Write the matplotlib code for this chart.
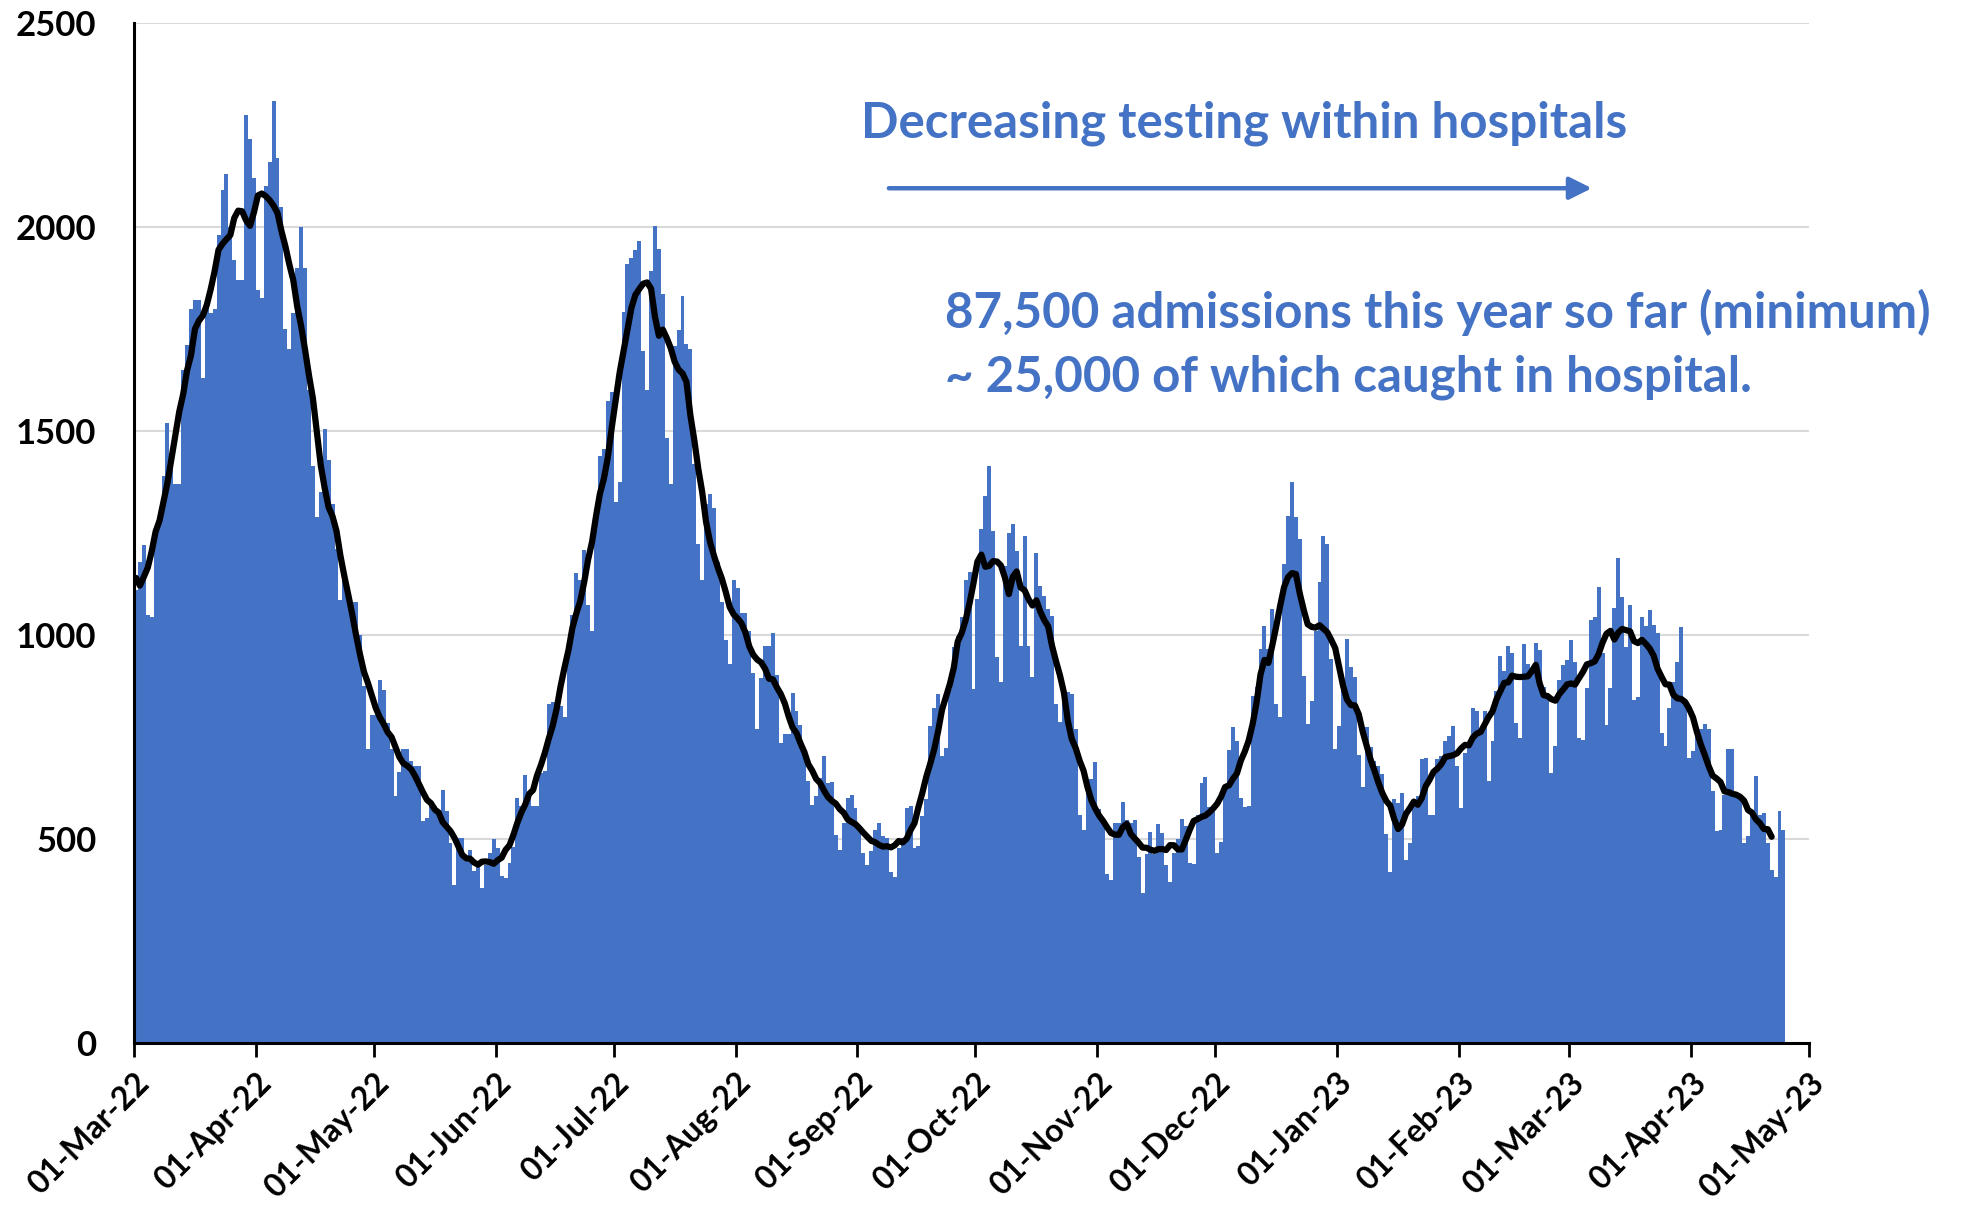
import pandas as pd
import numpy as np
import matplotlib
matplotlib.use('Agg')
from matplotlib import pyplot as plt
import matplotlib.dates as mdates

# daily admissions, one list per month
mar22 = [1110, 1180, 1220, 1050, 1045, 1250, 1300, 1390, 1520, 1410, 1370, 1370, 1650, 1710, 1800, 1820,
         1820, 1630, 1820, 1790, 1800, 1980, 2090, 2130, 2000, 1920, 1870, 1870, 2275, 2215, 2120]
apr22 = [1845, 1825, 2100, 2160, 2310, 2170, 2050, 1750, 1700, 1790, 1900, 2000, 1900, 1600, 1415, 1290,
         1350, 1505, 1430, 1320, 1210, 1085, 1135, 1100, 1080, 1080, 1000, 875, 720, 805]
may22 = [805, 890, 865, 785, 720, 605, 665, 720, 720, 690, 678, 678, 543, 551, 580, 580,
         563, 621, 568, 490, 388, 502, 502, 449, 474, 421, 433, 380, 437, 466, 500]
jun22 = [478, 409, 405, 441, 480, 600, 580, 657, 616, 580, 580, 661, 666, 830, 837, 826,
         826, 798, 955, 1050, 1152, 1135, 1208, 1073, 1011, 1280, 1438, 1455, 1573, 1596]
jul22 = [1326, 1376, 1792, 1910, 1924, 1944, 1966, 1697, 1601, 1893, 2002, 1946, 1837, 1483, 1371, 1708,
         1747, 1831, 1713, 1700, 1420, 1224, 1136, 1320, 1345, 1312, 1180, 1080, 988, 928, 1136]
aug22 = [1114, 1054, 1054, 1010, 906, 769, 895, 972, 972, 1005, 901, 736, 758, 758, 857, 813,
         780, 709, 643, 583, 605, 649, 703, 638, 640, 511, 474, 539, 601, 609, 576]
sep22 = [527, 466, 437, 470, 523, 539, 507, 502, 420, 408, 478, 502, 576, 580, 478, 482,
         556, 597, 777, 822, 855, 703, 724, 867, 970, 998, 1043, 1134, 1154, 868]
oct22 = [1088, 1259, 1341, 1414, 1255, 945, 884, 1170, 1251, 1272, 1206, 974, 1243, 974, 896, 1202,
         1121, 1096, 1064, 1047, 831, 786, 864, 860, 856, 770, 558, 521, 631, 648, 688]
nov22 = [574, 542, 415, 400, 540, 540, 591, 547, 540, 547, 456, 367, 463, 517, 463, 537,
         514, 436, 395, 466, 500, 548, 533, 442, 438, 560, 637, 652, 579, 571]
dec22 = [466, 493, 628, 718, 775, 741, 600, 579, 582, 850, 872, 966, 1023, 966, 1064, 831,
         799, 1174, 1292, 1374, 1288, 1235, 900, 782, 839, 1011, 1129, 1243, 1223, 941, 721]
jan23 = [778, 880, 990, 921, 896, 705, 627, 774, 725, 692, 680, 660, 513, 420, 597, 589,
         613, 449, 490, 590, 605, 695, 699, 560, 560, 695, 703, 740, 752, 777, 679]
feb23 = [576, 711, 736, 822, 814, 769, 814, 642, 740, 863, 949, 912, 974, 957, 785, 748,
         978, 930, 906, 980, 964, 873, 857, 661, 727, 890, 926, 939]
mar23 = [988, 935, 748, 743, 870, 1037, 1045, 1118, 955, 779, 870, 1066, 1189, 1094, 970, 1074,
         841, 849, 1045, 1021, 1062, 1025, 1004, 760, 727, 821, 884, 933, 1020, 830, 699]
apr23 = [716, 769, 769, 781, 769, 617, 519, 523, 609, 720, 720, 609, 605, 490, 507, 572,
         654, 560, 564, 490, 425, 408, 568, 523]

admissions = mar22 + apr22 + may22 + jun22 + jul22 + aug22 + sep22 + oct22 + nov22 + dec22 + jan23 + feb23 + mar23 + apr23
days = pd.date_range('2022-03-01', periods=len(admissions), freq='D')
s = pd.Series(admissions, index=days)

# 7 day average, centred (no value for the last 3 days)
avg = s.rolling(7, center=True, min_periods=1).mean()
avg.iloc[-3:] = np.nan

blue = '#4472C4'
plt.rcParams['font.family'] = ['Lato', 'DejaVu Sans']

fig = plt.figure(figsize=(19.63, 12.08), dpi=100)
ax = fig.add_axes([134/1963, 165/1208, 1675/1963, 1020/1208])

ax.bar(days, s.values, width=1.0, align='edge', color=blue, linewidth=0, zorder=2)
ax.plot(days + pd.Timedelta(hours=12), avg.values, color='black', lw=4.5, zorder=3,
        solid_capstyle='round', solid_joinstyle='round')

ax.set_xlim(pd.Timestamp('2022-03-01'), pd.Timestamp('2023-05-01'))
ax.set_ylim(0, 2500)
ax.set_yticks(range(0, 2501, 500))
ax.grid(axis='y', color='#D9D9D9', lw=1.5, zorder=0)
ax.set_axisbelow(True)

ticks = pd.date_range('2022-03-01', '2023-05-01', freq='MS')
ax.set_xticks(ticks)
ax.xaxis.set_major_formatter(mdates.DateFormatter('%d-%b-%y'))
for lab in ax.get_xticklabels():
    lab.set_rotation(45)
    lab.set_ha('right')
    lab.set_rotation_mode('anchor')
    lab.set_fontweight('bold')
for lab in ax.get_yticklabels():
    lab.set_fontweight('bold')
ax.tick_params(axis='x', labelsize=23, length=10, width=2, direction='out', pad=8)
ax.tick_params(axis='y', labelsize=25, length=0, pad=27)

for side in ['top', 'right']:
    ax.spines[side].set_visible(False)
for side in ['left', 'bottom']:
    ax.spines[side].set_linewidth(2.2)
    ax.spines[side].set_zorder(4)

ax.text(0.434, 0.902, 'Decreasing testing within hospitals', transform=ax.transAxes,
        color=blue, fontsize=35.5, fontweight='bold', va='center', ha='left')
ax.annotate('', xy=(0.872, 0.838), xytext=(0.449, 0.838), xycoords='axes fraction',
            arrowprops=dict(arrowstyle='-|>', color=blue, lw=3.2, mutation_scale=34))
ax.text(0.484, 0.716, '87,500 admissions this year so far (minimum)', transform=ax.transAxes,
        color=blue, fontsize=35.5, fontweight='bold', va='center', ha='left')
ax.text(0.484, 0.653, '~ 25,000 of which caught in hospital.', transform=ax.transAxes,
        color=blue, fontsize=35.5, fontweight='bold', va='center', ha='left')

fig.savefig('out.png', dpi=100)
